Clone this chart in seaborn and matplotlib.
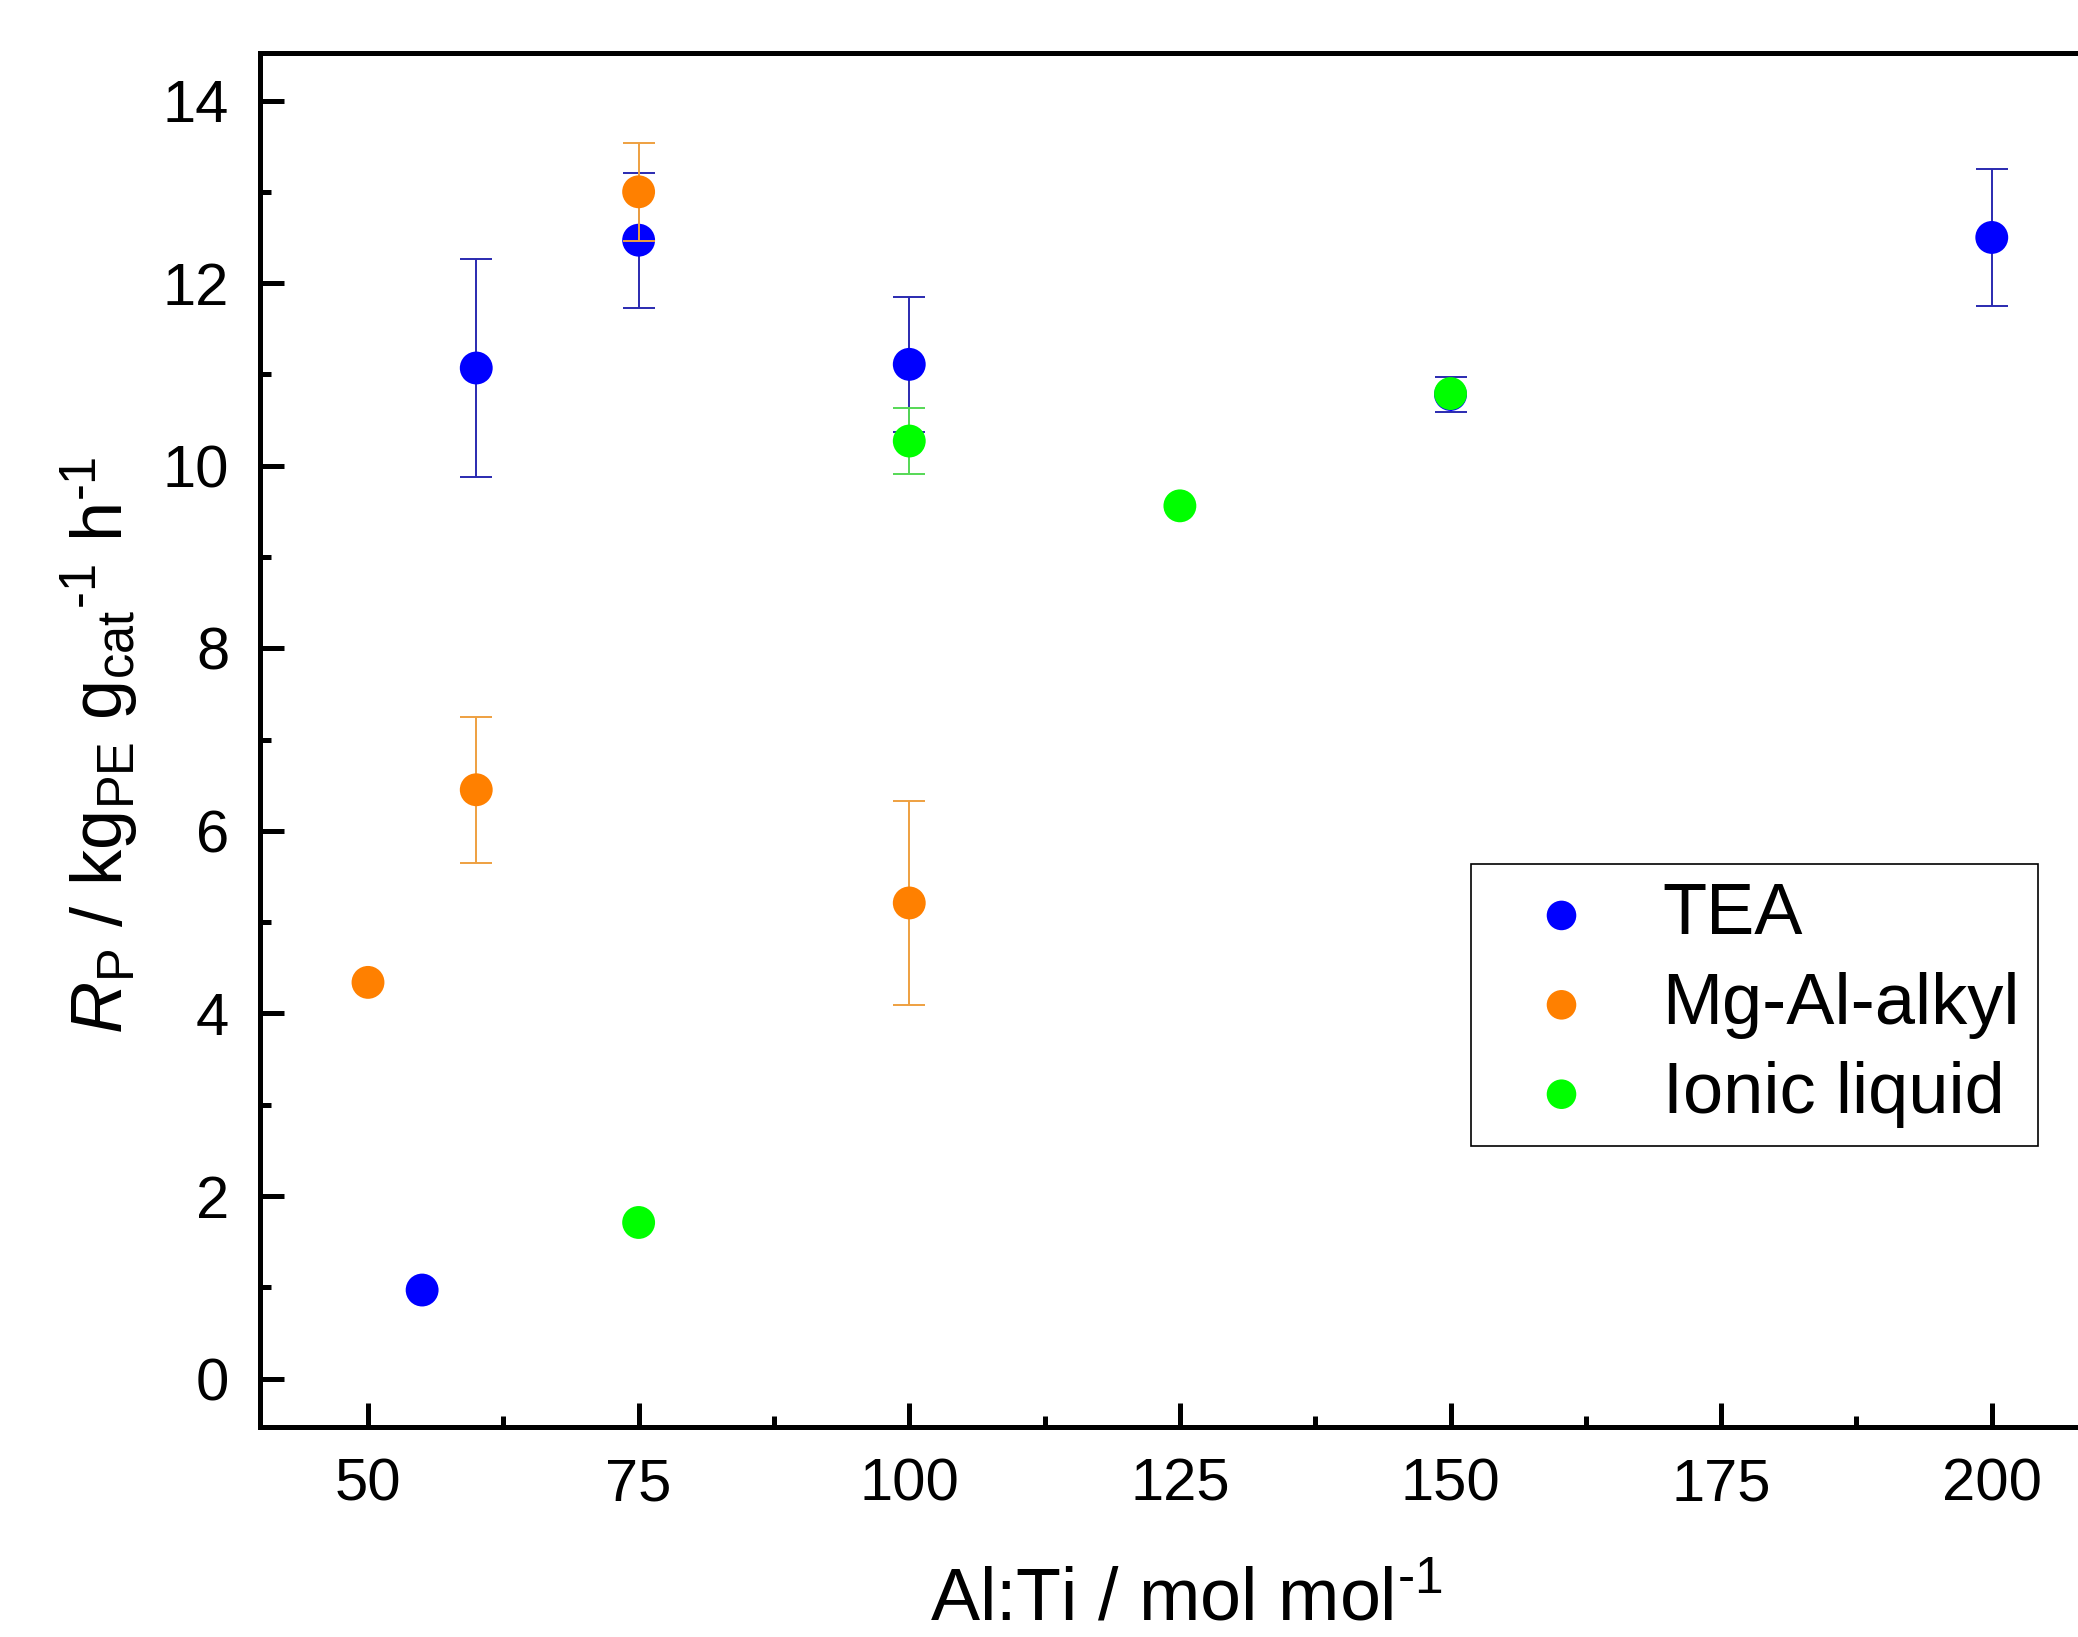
import numpy as np
import matplotlib
matplotlib.use("Agg")
import matplotlib.pyplot as plt
from matplotlib.ticker import MultipleLocator
import seaborn as sns

# 数据
tea_x = [55, 60, 75, 100, 150, 200]
tea_y = [0.97, 11.07, 12.47, 11.11, 10.78, 12.50]
tea_err = [np.nan, 1.19, 0.74, 0.74, 0.19, 0.75]

mg_x = [50, 60, 75, 100]
mg_y = [4.34, 6.45, 13.00, 5.21]
mg_err = [np.nan, 0.80, 0.54, 1.12]

il_x = [75, 100, 125, 150]
il_y = [1.71, 10.27, 9.56, 10.79]
il_err = [np.nan, 0.36, np.nan, np.nan]

x_ticks = [50, 75, 100, 125, 150, 175, 200]
y_ticks = [0, 2, 4, 6, 8, 10, 12, 14]

series = [
    ("TEA", tea_x, tea_y, tea_err, "#0000ff", "#2a2ab0"),
    ("Mg-Al-alkyl", mg_x, mg_y, mg_err, "#ff8000", "#eea040"),
    ("Ionic liquid", il_x, il_y, il_err, "#00ff00", "#55d855"),
]

sns.set_theme(style="ticks")
plt.rcParams['font.family'] = ['Liberation Sans', 'DejaVu Sans']
plt.rcParams['mathtext.fontset'] = 'custom'
plt.rcParams['mathtext.rm'] = 'Liberation Sans'
plt.rcParams['mathtext.it'] = 'Liberation Sans:italic'
plt.rcParams['text.color'] = 'black'
plt.rcParams['xtick.color'] = 'black'
plt.rcParams['ytick.color'] = 'black'
plt.rcParams['xtick.labelcolor'] = 'black'
plt.rcParams['ytick.labelcolor'] = 'black'

fig = plt.figure(figsize=(20.78, 16.37), dpi=100)
ax = fig.add_axes([0.125, 0.1283, 0.8856, 0.8393])

z = 2
for name, xs, ys, errs, col, ecol in series:
    xs = np.array(xs, dtype=float)
    ys = np.array(ys, dtype=float)
    errs = np.array(errs, dtype=float)
    m = ~np.isnan(errs)
    if m.any():
        ax.errorbar(xs[m], ys[m], yerr=errs[m], fmt='none', ecolor=ecol,
                    elinewidth=1.4, capsize=11.5, capthick=1.4, zorder=z)
    sns.scatterplot(x=xs, y=ys, color=col, s=560, edgecolor='none',
                    label=name, ax=ax, zorder=z + 1)
    z += 2

ax.set_xlim(40, 210)
ax.set_ylim(-0.53, 14.52)
ax.set_xticks(x_ticks)
ax.set_yticks(y_ticks)
ax.xaxis.set_minor_locator(MultipleLocator(12.5))
ax.yaxis.set_minor_locator(MultipleLocator(1))
ax.tick_params(which='major', direction='in', length=17, width=3.6,
               labelsize=43, pad=22, top=False, right=False)
ax.tick_params(which='minor', direction='in', length=8, width=3.6,
               top=False, right=False)
for sp in ax.spines.values():
    sp.set_linewidth(3.6)
    sp.set_color('black')
ax.set_xlabel("")
ax.set_ylabel("")

fig.text(0.571, 0.022, r"Al:Ti / mol mol$^{\text{-}1}$", fontsize=53,
         ha='center', va='center')
fig.text(0.048, 0.545,
         r"$\mathit{R}_\mathrm{P}$ / kg$_\mathrm{PE}$ g$_\mathrm{cat}$$^{\text{-}1}$ h$^{\text{-}1}$",
         fontsize=52, rotation=90, ha='center', va='center')

leg = ax.legend(loc='upper left', bbox_to_anchor=(0.708, 0.472),
                bbox_transform=fig.transFigure, fontsize=52, frameon=True,
                fancybox=False, framealpha=1, edgecolor='black',
                markerscale=0.9, handlelength=2.0, handletextpad=0.4,
                labelspacing=0.31, borderpad=0.25, borderaxespad=0)
leg.get_frame().set_linewidth(1.2)

plt.savefig("out.png", dpi=100)
